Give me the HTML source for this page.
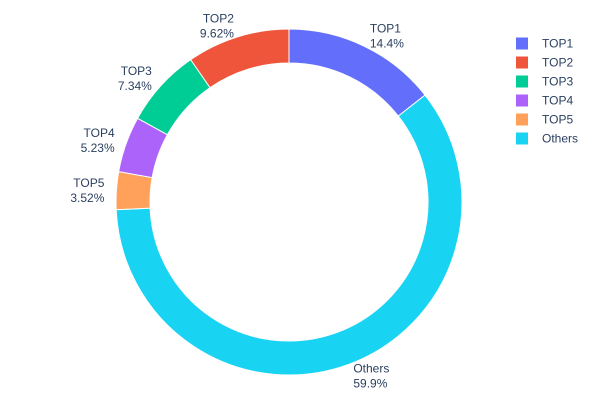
<!DOCTYPE html>
<html><head><meta charset="utf-8"><style>
body{margin:0;background:#fff;}
svg text{font-family:"Liberation Sans","DejaVu Sans",sans-serif;font-size:12px;fill:#2a3f5f;}
</style></head><body>
<svg id="chart" width="600" height="400" xmlns="http://www.w3.org/2000/svg">
<rect width="600" height="400" fill="#fff"/>
<g id="slices"></g>
<g id="labels"></g>
<g id="legend"></g>
</svg>
<script>
const categories = ["TOP1","TOP2","TOP3","TOP4","TOP5","Others"];
const values = [14.4, 9.62, 7.34, 5.23, 3.52, 59.9];
const valueLabels = ["14.4%","9.62%","7.34%","5.23%","3.52%","59.9%"];
const colors = ["#636efa","#EF553B","#00cc96","#ab63fa","#FFA15A","#19d3f3"];
const drawOrder = [0,5,4,3,2,1];

const NS="http://www.w3.org/2000/svg";
const cx=289, cy=202, R=173, r=139;
const total=values.reduce((a,b)=>a+b,0);
function pt(rad,ang){return [cx+rad*Math.sin(ang), cy-rad*Math.cos(ang)];}
const gS=document.getElementById('slices'), gL=document.getElementById('labels'), gLeg=document.getElementById('legend');
let a=0;
drawOrder.forEach(i=>{
  const span=values[i]/total*2*Math.PI;
  const a0=a, a1=a+span; a=a1;
  const large=span>Math.PI?1:0;
  const [x0,y0]=pt(R,a0),[x1,y1]=pt(R,a1),[x2,y2]=pt(r,a1),[x3,y3]=pt(r,a0);
  const p=document.createElementNS(NS,'path');
  p.setAttribute('d',`M${x0},${y0}A${R},${R} 0 ${large} 1 ${x1},${y1}L${x2},${y2}A${r},${r} 0 ${large} 0 ${x3},${y3}Z`);
  p.setAttribute('fill',colors[i]);p.setAttribute('stroke','#fff');p.setAttribute('stroke-width','1');
  
  
  gS.appendChild(p);
  const mid=(a0+a1)/2;
  const [lx,ly]=pt(185,mid);
  const anchor=Math.sin(mid)>=0?'start':'end';
  const t=document.createElementNS(NS,'text');
  t.setAttribute('text-anchor',anchor);
  
  
  const s1=document.createElementNS(NS,'tspan');s1.setAttribute('x',lx);s1.setAttribute('y',ly-3);s1.textContent=categories[i];
  const s2=document.createElementNS(NS,'tspan');s2.setAttribute('x',lx);s2.setAttribute('y',ly+12);s2.textContent=valueLabels[i];
  t.appendChild(s1);t.appendChild(s2);gL.appendChild(t);
});
categories.forEach((c,i)=>{
  const g=document.createElementNS(NS,'g');
  
  
  const y=43.5+i*19;
  const sq=document.createElementNS(NS,'rect');
  sq.setAttribute('x',516);sq.setAttribute('y',y-6);sq.setAttribute('width',12);sq.setAttribute('height',12);sq.setAttribute('fill',colors[i]);
  const t=document.createElementNS(NS,'text');
  t.setAttribute('x',542);t.setAttribute('y',y+4);t.textContent=c;
  g.appendChild(sq);g.appendChild(t);gLeg.appendChild(g);
});
</script>
</body></html>
